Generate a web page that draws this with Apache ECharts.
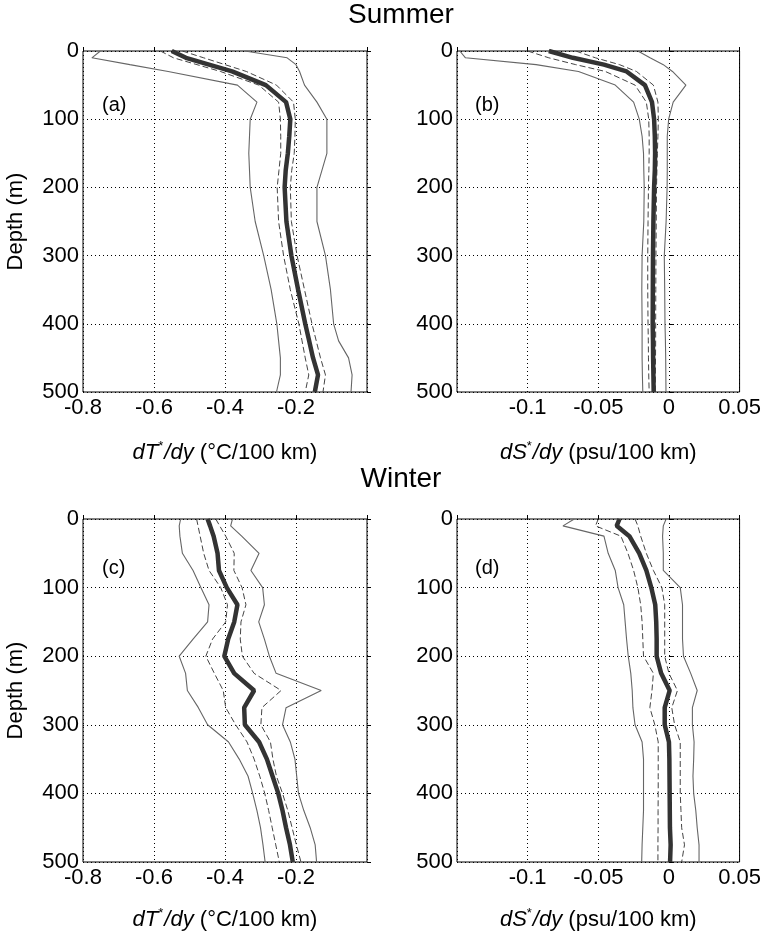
<!DOCTYPE html>
<html>
<head>
<meta charset="utf-8">
<script src="https://cdn.jsdelivr.net/npm/echarts@6/dist/echarts.min.js"></script>
<style>
  html, body { margin: 0; padding: 0; background: #fff; }
  #chart { width: 764px; height: 936px; }
</style>
</head>
<body>
<div id="chart"></div>
<script>
// depth levels (m)
const depthSummer = [0, 10, 20, 30, 50, 75, 100, 125, 150, 175, 200, 250, 300, 350, 400, 425, 450, 475, 500]
const depthWinter = [0, 10, 25, 50, 75, 100, 125, 150, 175, 200, 225, 250, 275, 300, 325, 350, 375, 400, 425, 450, 475, 500]

// (a) summer dT*/dy
const tSumMean   = [-0.55, -0.51, -0.445, -0.38, -0.285, -0.228, -0.216, -0.219, -0.223, -0.229, -0.232, -0.227, -0.213, -0.194, -0.174, -0.163, -0.152, -0.138, -0.147]
const tSumDashLo = [-0.582, -0.545, -0.479, -0.413, -0.305, -0.249, -0.244, -0.243, -0.243, -0.248, -0.253, -0.249, -0.235, -0.216, -0.192, -0.183, -0.174, -0.164, -0.174]
const tSumDashHi = [-0.52, -0.46, -0.40, -0.34, -0.255, -0.207, -0.202, -0.203, -0.205, -0.212, -0.216, -0.213, -0.197, -0.176, -0.155, -0.143, -0.131, -0.117, -0.124]
const tSumOutLo  = [-0.751, -0.775, -0.668, -0.56, -0.365, -0.31, -0.329, -0.331, -0.333, -0.331, -0.329, -0.315, -0.291, -0.27, -0.254, -0.249, -0.244, -0.244, -0.255]
const tSumOutHi  = [-0.344, -0.225, -0.2, -0.19, -0.176, -0.141, -0.113, -0.113, -0.113, -0.127, -0.141, -0.141, -0.117, -0.103, -0.094, -0.08, -0.052, -0.042, -0.045]

// (b) summer dS*/dy
const sSumMean   = [-0.085, -0.068, -0.046, -0.030, -0.017, -0.012, -0.0105, -0.010, -0.0098, -0.0100, -0.0105, -0.011, -0.0113, -0.0114, -0.0115, -0.0113, -0.0112, -0.011, -0.0108]
const sSumDashLo = [-0.10, -0.085, -0.066, -0.045, -0.024, -0.016, -0.0143, -0.014, -0.014, -0.0142, -0.0145, -0.0148, -0.015, -0.015, -0.0148, -0.0146, -0.0145, -0.0143, -0.014]
const sSumDashHi = [-0.066, -0.052, -0.035, -0.023, -0.011, -0.0078, -0.0075, -0.0078, -0.0082, -0.0085, -0.0088, -0.009, -0.0092, -0.0093, -0.0094, -0.0094, -0.0095, -0.0096, -0.0097]
const sSumOutLo  = [-0.148, -0.144, -0.094, -0.064, -0.038, -0.025, -0.021, -0.019, -0.018, -0.0178, -0.0175, -0.0178, -0.019, -0.0192, -0.019, -0.019, -0.019, -0.0188, -0.0185]
const sSumOutHi  = [-0.022, -0.0134, -0.004, 0.0025, 0.012, 0.003, -0.0002, -0.0012, -0.0012, -0.0012, -0.0013, -0.002, -0.0033, -0.003, -0.0028, -0.0025, -0.0023, -0.0022, -0.0021]

// (c) winter dT*/dy
const tWinMean   = [-0.449, -0.442, -0.432, -0.421, -0.417, -0.395, -0.365, -0.374, -0.391, -0.402, -0.374, -0.318, -0.346, -0.344, -0.304, -0.282, -0.266, -0.250, -0.238, -0.228, -0.217, -0.209]
const tWinDashLo = [-0.48, -0.476, -0.470, -0.460, -0.445, -0.412, -0.393, -0.398, -0.435, -0.454, -0.43, -0.405, -0.398, -0.37, -0.338, -0.318, -0.302, -0.288, -0.277, -0.267, -0.257, -0.247]
const tWinDashHi = [-0.426, -0.415, -0.398, -0.374, -0.375, -0.352, -0.341, -0.355, -0.357, -0.351, -0.318, -0.242, -0.296, -0.299, -0.272, -0.265, -0.255, -0.238, -0.223, -0.211, -0.199, -0.186]
const tWinOutLo  = [-0.525, -0.529, -0.527, -0.52, -0.49, -0.468, -0.445, -0.449, -0.49, -0.529, -0.511, -0.506, -0.475, -0.449, -0.39, -0.36, -0.335, -0.322, -0.31, -0.30, -0.293, -0.287]
const tWinOutHi  = [-0.379, -0.384, -0.353, -0.304, -0.327, -0.294, -0.289, -0.305, -0.289, -0.275, -0.256, -0.129, -0.228, -0.238, -0.216, -0.203, -0.198, -0.193, -0.178, -0.16, -0.146, -0.142]

// (d) winter dS*/dy
const sWinMean   = [-0.035, -0.037, -0.028, -0.021, -0.016, -0.0125, -0.0097, -0.009, -0.0087, -0.0087, -0.0055, 0.0005, -0.003, -0.003, 0.0, 0.0003, 0.0004, 0.0005, 0.0006, 0.0007, 0.0012, 0.0008]
const sWinDashLo = [-0.050, -0.052, -0.034, -0.029, -0.025, -0.022, -0.020, -0.019, -0.0185, -0.018, -0.011, -0.012, -0.0135, -0.010, -0.0076, -0.0076, -0.0076, -0.0076, -0.0077, -0.0077, -0.0078, -0.0078]
const sWinDashHi = [-0.024, -0.022, -0.020, -0.016, -0.011, -0.005, -0.003, -0.003, -0.003, -0.003, 0.000, 0.006, 0.002, 0.004, 0.008, 0.008, 0.008, 0.008, 0.0085, 0.009, 0.011, 0.009]
const sWinOutLo  = [-0.067, -0.075, -0.046, -0.043, -0.038, -0.036, -0.032, -0.031, -0.030, -0.0288, -0.027, -0.026, -0.0255, -0.024, -0.019, -0.018, -0.018, -0.018, -0.018, -0.0185, -0.019, -0.0193]
const sWinOutHi  = [-0.002, -0.004, -0.0045, -0.004, -0.004, 0.008, 0.0096, 0.0096, 0.0096, 0.0103, 0.0154, 0.020, 0.0166, 0.0166, 0.0178, 0.0175, 0.017, 0.0175, 0.019, 0.020, 0.0213, 0.0213]

const panelLabels = ['(a)', '(b)', '(c)', '(d)']

const font = 'Liberation Sans, Arial, sans-serif'
const tName = '{i|dT}{s|*}{i|/dy} (°C/100 km)'
const sName = '{i|dS}{s|*}{i|/dy} (psu/100 km)'

const nameRich = {
  i: { fontStyle: 'italic', fontSize: 22, color: '#000', fontFamily: font },
  s: { fontSize: 13, color: '#000', fontFamily: font, verticalAlign: 'top', padding: [0, 1, 12, 0] }
}

const grids = [
  { left: 83, top: 51, width: 284, height: 341 },
  { left: 457, top: 51, width: 284, height: 341 },
  { left: 83, top: 519, width: 284, height: 343 },
  { left: 457, top: 519, width: 284, height: 343 }
].map(g => Object.assign(g, { show: true, borderColor: '#000', borderWidth: 1 }))

function xAxisFor(i, isT) {
  return {
    gridIndex: i,
    type: 'value',
    min: isT ? -0.8 : -0.15,
    max: isT ? 0 : 0.05,
    interval: isT ? 0.2 : 0.05,
    axisLine: { show: false },
    axisTick: { show: true, inside: true, length: 4, lineStyle: { color: '#000' } },
    axisLabel: {
      fontSize: 22, color: '#000', fontFamily: font, margin: 5,
      formatter: v => {
        if (isT && Math.abs(v) < 1e-9) return ''
        if (!isT && Math.abs(v + 0.15) < 1e-9) return ''
        return String(+v.toFixed(2))
      }
    },
    splitLine: { show: true, lineStyle: { color: '#000', type: [1, 3], width: 1 } },
    name: isT ? tName : sName,
    nameLocation: 'middle',
    nameGap: i < 2 ? 48 : 45,
    nameTextStyle: { fontSize: 22, color: '#000', fontFamily: font, rich: nameRich }
  }
}

function yAxisFor(i) {
  return {
    gridIndex: i,
    type: 'value',
    inverse: true,
    min: 0,
    max: 500,
    interval: 100,
    axisLine: { show: false },
    axisTick: { show: true, inside: true, length: 4, lineStyle: { color: '#000' } },
    axisLabel: { fontSize: 22, color: '#000', fontFamily: font, margin: 4 },
    splitLine: { show: true, lineStyle: { color: '#000', type: [1, 3], width: 1 } },
    name: i % 2 === 0 ? 'Depth (m)' : '',
    nameLocation: 'middle',
    nameGap: 56,
    nameTextStyle: { fontSize: 22, color: '#000', fontFamily: font }
  }
}

function pairs(values, depths) {
  return values.map((v, k) => [v, depths[k]])
}

function profile(idx, values, depths, kind) {
  const style = {
    mean: { color: '#333', width: 4.5, type: 'solid' },
    dash: { color: '#444', width: 1, type: [6, 3] },
    out: { color: '#666', width: 1.1, type: 'solid' }
  }[kind]
  return {
    type: 'line',
    xAxisIndex: idx,
    yAxisIndex: idx,
    data: pairs(values, depths),
    showSymbol: false,
    symbol: 'none',
    silent: true,
    animation: false,
    lineStyle: style,
    z: kind === 'mean' ? 5 : 3
  }
}

const panels = [
  [tSumMean, tSumDashLo, tSumDashHi, tSumOutLo, tSumOutHi, depthSummer],
  [sSumMean, sSumDashLo, sSumDashHi, sSumOutLo, sSumOutHi, depthSummer],
  [tWinMean, tWinDashLo, tWinDashHi, tWinOutLo, tWinOutHi, depthWinter],
  [sWinMean, sWinDashLo, sWinDashHi, sWinOutLo, sWinOutHi, depthWinter]
]

const series = []
panels.forEach((p, i) => {
  const d = p[5]
  series.push(profile(i, p[3], d, 'out'))
  series.push(profile(i, p[4], d, 'out'))
  series.push(profile(i, p[1], d, 'dash'))
  series.push(profile(i, p[2], d, 'dash'))
  series.push(profile(i, p[0], d, 'mean'))
})

const labelPos = [[102, 106], [475, 106], [102, 569], [475, 569]]

const titleStyle = { fontSize: 28, fontWeight: 'normal', color: '#000', fontFamily: font }

const option = {
  backgroundColor: '#fff',
  animation: false,
  title: [
    { text: 'Summer', left: 401, top: 1, textAlign: 'center', padding: 0, textStyle: titleStyle },
    { text: 'Winter', left: 401, top: 465, textAlign: 'center', padding: 0, textStyle: titleStyle }
  ],
  grid: grids,
  xAxis: [xAxisFor(0, true), xAxisFor(1, false), xAxisFor(2, true), xAxisFor(3, false)],
  yAxis: [0, 1, 2, 3].map(yAxisFor),
  graphic: panelLabels.map((t, i) => ({
    type: 'text',
    left: labelPos[i][0],
    top: labelPos[i][1] - 11,
    style: { text: t, fontSize: 20, fill: '#000', fontFamily: font }
  })),
  series: series
}

const chart = echarts.init(document.getElementById('chart'))
chart.setOption(option)
</script>
</body>
</html>
